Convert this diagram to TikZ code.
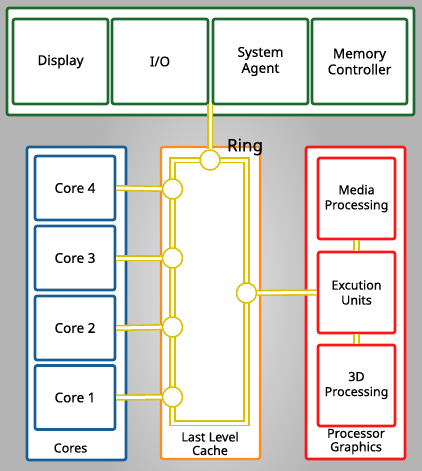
\documentclass[tikz,border=0pt]{standalone}
\usepackage{fontspec}
\setmainfont{Noto Sans}[FakeBold=0.5]
\usepackage{tikz}
\usetikzlibrary{positioning}

\definecolor{bggray}{HTML}{B4B4B4}
\definecolor{glow}{HTML}{E8E8E8}
\definecolor{sagreen}{HTML}{1B6A2C}
\definecolor{coreblue}{HTML}{175E95}
\definecolor{llcorange}{HTML}{FF8A1E}
\definecolor{gfxred}{HTML}{FF1414}
\definecolor{ringyellow}{HTML}{DDC000}

\begin{document}
\begin{tikzpicture}[x=1pt, y=-1pt,
    box/.style={draw, fill=white, line width=2.6pt, rounded corners=2pt, align=center, inner sep=0pt, font=\fontsize{13.5}{16}\selectfont},
    group/.style={draw, fill=white, line width=2.6pt, rounded corners=2pt, inner sep=0pt},
    tag/.style={align=center, font=\fontsize{12.5}{13.5}\selectfont},
    bus/.style={draw=ringyellow, line width=1.6pt, double=white, double distance=3pt},
    stop/.style={circle, draw=ringyellow, fill=white, line width=1.5pt, minimum size=20pt, inner sep=0pt}]

    % Page and background
    \useasboundingbox (0,0) rectangle (422,471);
    \begin{scope}
        \clip (0,0) rectangle (422,471);
        \fill[bggray] (0,0) rectangle (422,471);
        \shade[inner color=glow, outer color=bggray] (70,20) rectangle (350,560);
    \end{scope}

    % System agent block
    \node[group, draw=sagreen, minimum width=407pt, minimum height=107pt] (top) at (210.5,61.5) {};
    \node[box, draw=sagreen, minimum width=95pt, minimum height=85pt] (disp) at (60.5,61.5) {Display};
    \node[box, draw=sagreen, minimum width=96pt, minimum height=85pt] (io) at (160,61.5) {I/O};
    \node[box, draw=sagreen, minimum width=95pt, minimum height=85pt] (sa) at (260.5,61.5) {System\\Agent};
    \node[box, draw=sagreen, minimum width=95pt, minimum height=85pt] (mc) at (359.5,61.5) {Memory\\Controller};
    \coordinate (saout) at (210,104);

    % Cores
    \node[group, draw=coreblue, minimum width=99pt, minimum height=313pt] (cores) at (76.5,303.5) {};
    \node[box, draw=coreblue, minimum width=80pt, minimum height=64pt] (core4) at (75,188) {Core 4};
    \node[box, draw=coreblue, minimum width=80pt, minimum height=64pt] (core3) at (75,258) {Core 3};
    \node[box, draw=coreblue, minimum width=80pt, minimum height=64pt] (core2) at (75,328) {Core 2};
    \node[box, draw=coreblue, minimum width=80pt, minimum height=64pt] (core1) at (75,397.5) {Core 1};
    \node[tag] at (70.5,448) {Cores};

    % Last level cache
    \node[group, draw=llcorange, line width=2.2pt, minimum width=99pt, minimum height=312pt] (llc) at (210.5,303) {};
    \node[tag] at (210,443.5) {Last Level\\Cache};

    % Processor graphics
    \node[group, draw=gfxred, minimum width=99pt, minimum height=312pt] (gfx) at (355.5,303) {};
    \node[box, draw=gfxred, minimum width=77pt, minimum height=81pt, font=\fontsize{12.5}{15}\selectfont] (media) at (356.5,198.5) {Media\\Processing};
    \node[box, draw=gfxred, minimum width=77pt, minimum height=81pt, font=\fontsize{12.5}{15}\selectfont] (eu) at (356.5,292.5) {Excution\\Units};
    \node[box, draw=gfxred, minimum width=77pt, minimum height=81pt, font=\fontsize{12.5}{15}\selectfont] (threed) at (356.5,385.5) {3D\\Processing};
    \node[tag] at (356,441.5) {Processor\\Graphics};

    % Ring
    \draw[bus] (172.5,160) rectangle (246.5,423);
    \node[stop] (rtop) at (210,160) {};
    \node[stop] (r4) at (172.5,189) {};
    \node[stop] (r3) at (172.5,258) {};
    \node[stop] (r2) at (172.5,327) {};
    \node[stop] (r1) at (172.5,397) {};
    \node[stop] (rgfx) at (246.5,293) {};
    \node[font=\fontsize{17}{19}\selectfont] (ring) at (245,147) {Ring};

    % Connectors
    \draw[bus] (saout) -- (rtop);
    \draw[bus] (core4.east) -- (r4);
    \draw[bus] (core3.east) -- (r3);
    \draw[bus] (core2.east) -- (r2);
    \draw[bus] (core1.east) -- (r1);
    \draw[bus] (rgfx) -- (eu.west);
    \draw[bus] (media.south) -- (eu.north);
    \draw[bus] (eu.south) -- (threed.north);

\end{tikzpicture}
\end{document}
